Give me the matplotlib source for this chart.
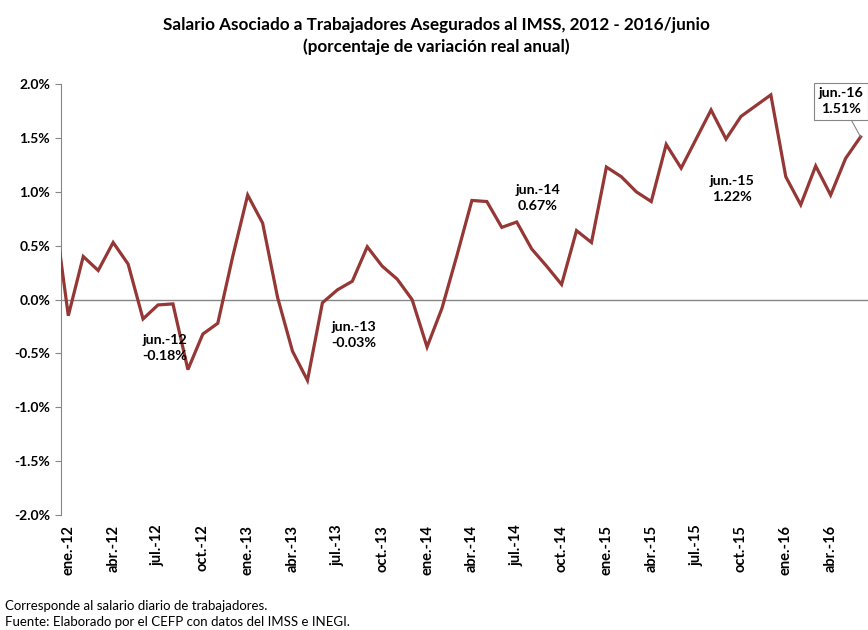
import matplotlib
matplotlib.use("Agg")
import matplotlib.pyplot as plt
from matplotlib.ticker import FuncFormatter

plt.rcParams['font.family'] = ['Lato', 'DejaVu Sans']

#%% Data: real annual variation (%), dic.-11 to jun.-16 (dic.-11 sits off the left edge)

meses = ["ene.", "feb.", "mar.", "abr.", "may.", "jun.",
         "jul.", "ago.", "sep.", "oct.", "nov.", "dic."]
periodos = ["dic.-11"] + [m + "-" + str(a) for a in range(12, 17) for m in meses][:54]

salario = [0.89,
           -0.15, 0.40, 0.27, 0.53, 0.33, -0.18, -0.05, -0.04, -0.65, -0.32, -0.22, 0.40,
           0.97, 0.71, 0.02, -0.48, -0.75, -0.03, 0.09, 0.17, 0.49, 0.31, 0.19, 0.00,
           -0.44, -0.08, 0.41, 0.92, 0.91, 0.67, 0.72, 0.47, 0.31, 0.14, 0.64, 0.53,
           1.23, 1.14, 1.00, 0.91, 1.44, 1.22, 1.49, 1.76, 1.49, 1.70, 1.80, 1.90,
           1.14, 0.88, 1.24, 0.97, 1.31, 1.51]

# labelled points: (period, text x offset in months, text y in %)
etiquetas = [("jun.-12", 1.45, -0.45),
             ("jun.-13", 2.1, -0.33),
             ("jun.-14", 2.4, 0.94),
             ("jun.-15", 3.4, 1.03)]

#%% Plot

x = list(range(-1, len(salario) - 1))  # ene.-12 at 0

fig = plt.figure(figsize=(8.68, 6.30), dpi=100)
ax = fig.add_axes([0.0706, 0.1825, 0.9294, 0.684])

ax.plot(x, salario, color="#953735", lw=2.3, solid_joinstyle="miter", zorder=3)
ax.axhline(0, color="#868686", lw=1.0, zorder=2)

ax.set_xlim(-0.47, 53.5)
ax.set_ylim(-2.0, 2.0)
ax.set_yticks([-2.0, -1.5, -1.0, -0.5, 0.0, 0.5, 1.0, 1.5, 2.0])
ax.yaxis.set_major_formatter(FuncFormatter(lambda v, p: "%.1f%%" % v))
for lab in ax.get_yticklabels():
    lab.set_fontweight("bold")
ax.tick_params(axis="y", labelsize=10, length=4, color="#868686", pad=4)

ticks = x[1::3]
ax.set_xticks(ticks)
ax.set_xticklabels(periodos[1::3], rotation=90, fontweight="bold", fontsize=10.5)
ax.tick_params(axis="x", length=0, pad=7)

for s in ["top", "right", "bottom"]:
    ax.spines[s].set_visible(False)
ax.spines["left"].set_color("#868686")

# annotations
for per, dx, ty in etiquetas:
    i = periodos.index(per)
    ax.text(x[i] + dx, ty, "%s\n%.2f%%" % (per, salario[i]), ha="center", va="center",
            fontsize=10.3, fontweight="bold", linespacing=1.4)

ult = len(salario) - 1
ax.annotate("%s\n%.2f%%" % (periodos[ult], salario[ult]), xy=(x[ult], salario[ult]),
            xytext=(x[ult] - 1.3, 1.84), ha="center", va="center",
            fontsize=10.3, fontweight="bold", linespacing=1.4, annotation_clip=False,
            bbox=dict(boxstyle="square,pad=0.3", fc="white", ec="#868686", lw=0.8),
            arrowprops=dict(arrowstyle="-", color="#868686", lw=0.8,
                            shrinkA=0, shrinkB=0))

fig.text(0.503, 0.961, "Salario Asociado a Trabajadores Asegurados al IMSS, 2012 - 2016/junio",
         ha="center", va="center", fontsize=12.3, fontweight="bold")
fig.text(0.503, 0.926, "(porcentaje de variación real anual)",
         ha="center", va="center", fontsize=12.3, fontweight="bold")

fig.text(0.006, 0.038, "Corresponde al salario diario de trabajadores.",
         ha="left", va="center", fontsize=9.5)
fig.text(0.006, 0.012, "Fuente: Elaborado por el CEFP con datos del IMSS e INEGI.",
         ha="left", va="center", fontsize=9.5)

fig.savefig("out.png", dpi=100)
